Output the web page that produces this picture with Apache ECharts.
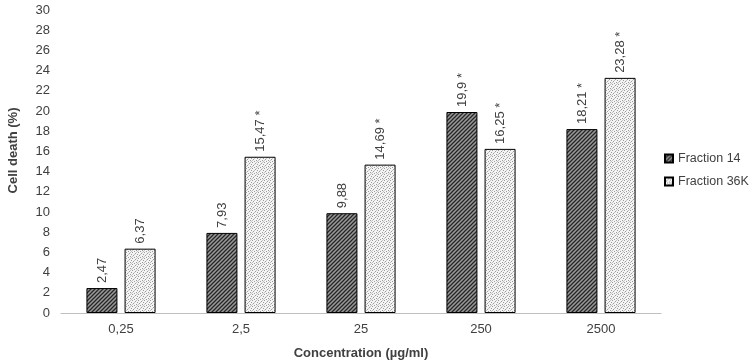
<!DOCTYPE html>
<html>
<head>
<meta charset="utf-8">
<script src="https://cdn.jsdelivr.net/npm/echarts@6/dist/echarts.min.js"></script>
<style>
  html, body { margin: 0; padding: 0; background: #fff; }
  #chart { width: 752px; height: 361px; }
</style>
</head>
<body>
<div id="chart"></div>
<script>
const categories = ['0,25', '2,5', '25', '250', '2500']
const fraction14 = [2.47, 7.93, 9.88, 19.9, 18.21]
const fraction36k = [6.37, 15.47, 14.69, 16.25, 23.28]
// significance marks (*) shown next to the value label
const sig14 = [false, false, false, true, true]
const sig36k = [false, true, true, true, true]

// hatch fills drawn on small canvases
function hatchPattern() {
  const c = document.createElement('canvas')
  c.width = 4; c.height = 4
  const g = c.getContext('2d')
  g.fillStyle = '#9a9a9a'
  g.fillRect(0, 0, 4, 4)
  g.strokeStyle = '#262626'
  g.lineWidth = 1.3
  g.beginPath()
  g.moveTo(0, 4); g.lineTo(4, 0)
  g.moveTo(-1, 1); g.lineTo(1, -1)
  g.moveTo(3, 5); g.lineTo(5, 3)
  g.stroke()
  return c
}

function dotPattern() {
  const c = document.createElement('canvas')
  c.width = 6; c.height = 6
  const g = c.getContext('2d')
  g.fillStyle = '#f4f4f4'
  g.fillRect(0, 0, 6, 6)
  g.fillStyle = '#9c9c9c'
  const dots = [[0, 0], [3, 1], [1, 3], [4, 4], [5, 2], [2, 5]]
  dots.forEach(([x, y]) => g.fillRect(x, y, 1, 1))
  g.fillStyle = '#c4c4c4'
  ;[[2, 2], [5, 5], [0, 4], [4, 0]].forEach(([x, y]) => g.fillRect(x, y, 1, 1))
  return c
}

function fmt(v, star) {
  return String(v).replace('.', ',') + (star ? ' *' : '')
}

const FONT = 'Liberation Sans, Arial, sans-serif'

const labelStyle = {
  show: true,
  position: 'top',
  rotate: 90,
  align: 'left',
  verticalAlign: 'middle',
  distance: 5,
  fontFamily: FONT,
  fontSize: 13,
  color: '#404040'
}

const chart = echarts.init(document.getElementById('chart'))
chart.setOption({
  animation: false,
  backgroundColor: '#fff',
  grid: { left: 61, right: 91, top: 10, bottom: 48, outerBoundsMode: 'none' },
  legend: {
    orient: 'vertical',
    left: 664,
    top: 152,
    padding: 0,
    icon: 'rect',
    itemWidth: 8,
    itemHeight: 8,
    itemGap: 10,
    textStyle: { fontFamily: FONT, fontSize: 12.5, color: '#404040' },
    data: ['Fraction 14', 'Fraction 36K']
  },
  xAxis: {
    type: 'category',
    data: categories,
    name: 'Concentration (µg/ml)',
    nameLocation: 'middle',
    nameGap: 34,
    nameTextStyle: { fontFamily: FONT, fontSize: 13, fontWeight: 'bold', color: '#404040' },
    axisLine: { lineStyle: { color: '#bfbfbf', width: 1 } },
    axisTick: { show: false },
    axisLabel: { fontFamily: FONT, fontSize: 13, color: '#404040', margin: 10 }
  },
  yAxis: {
    type: 'value',
    min: 0,
    max: 30,
    interval: 2,
    name: 'Cell death (%)',
    nameLocation: 'middle',
    nameGap: 41,
    nameTextStyle: { fontFamily: FONT, fontSize: 13, fontWeight: 'bold', color: '#404040', padding: [0, 0, 0, 22] },
    axisLine: { show: false },
    axisTick: { show: false },
    splitLine: { show: false },
    axisLabel: { fontFamily: FONT, fontSize: 13, color: '#404040', margin: 11 }
  },
  series: [
    {
      name: 'Fraction 14',
      type: 'bar',
      barWidth: 31,
      barGap: '23%',
      itemStyle: { color: { image: hatchPattern(), repeat: 'repeat' }, borderColor: '#000', borderWidth: 1 },
      label: Object.assign({}, labelStyle, { formatter: p => fmt(p.value, sig14[p.dataIndex]) }),
      data: fraction14
    },
    {
      name: 'Fraction 36K',
      type: 'bar',
      barWidth: 31,
      itemStyle: { color: { image: dotPattern(), repeat: 'repeat' }, borderColor: '#000', borderWidth: 1 },
      label: Object.assign({}, labelStyle, { formatter: p => fmt(p.value, sig36k[p.dataIndex]) }),
      data: fraction36k
    }
  ]
})
</script>
</body>
</html>
